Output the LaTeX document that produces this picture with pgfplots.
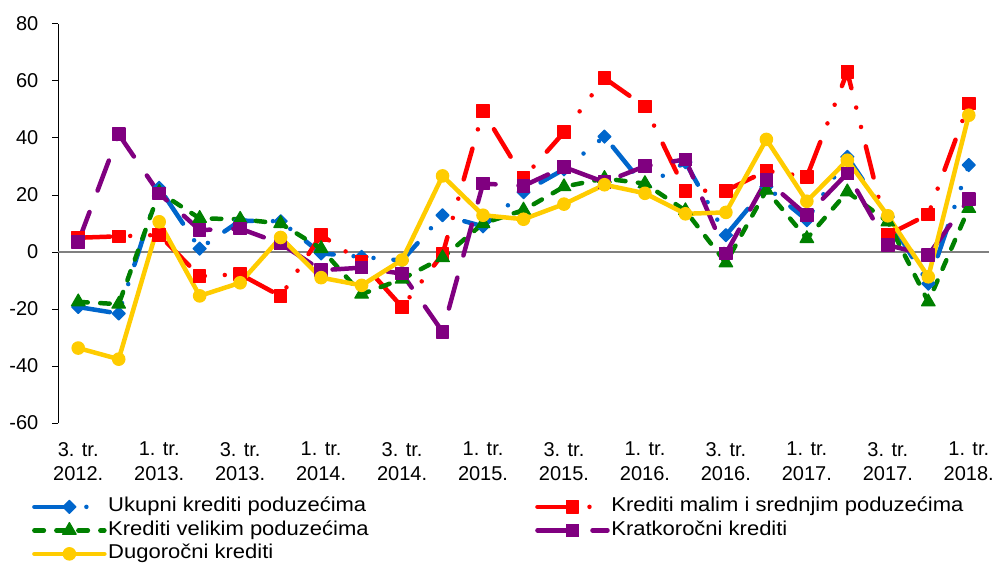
\documentclass[border=0pt]{standalone}
\usepackage{fontspec}
\setmainfont{Liberation Sans}
\newfontfamily\legendfont[FakeStretch=1.1]{Liberation Sans}
\usepackage{pgfplots}
\usepackage{pgfplotstable}
\pgfplotsset{compat=1.18}
\definecolor{cblue}{RGB}{0,102,204}
\definecolor{cred}{RGB}{255,0,0}
\definecolor{cgreen}{RGB}{0,128,0}
\definecolor{cpurple}{RGB}{128,0,128}
\definecolor{cyellow}{RGB}{255,204,0}
\definecolor{czero}{RGB}{128,128,128}

\pgfplotstableread{
x  blue   red    green  purple yellow
0  -19.3  5.0   -17.5   3.5   -33.7
1  -21.6  5.5   -18.3   41.3  -37.6
2   22.5  6.0    21.0   20.5   10.6
3   1.2  -8.5    11.8   7.7   -15.4
4   11.0 -7.8    11.5   8.2   -10.8
5   10.8 -15.5   10.0   3.0    5.1
6  -0.5   5.9    1.2   -6.4   -9.0
7  -1.7  -3.5   -14.8  -5.5   -11.7
8  -3.0  -19.3  -9.5   -7.6   -2.8
9   12.9 -0.8   -2.0   -28.0   26.7
10  9.0   49.4   10.0   24.0   12.9
11  21.0  26.0   14.7   23.2   11.5
12  29.0  42.0   22.9   29.8   16.8
13  40.5  61.0   25.8   24.5   23.6
14  23.0  51.0   24.0   30.1   20.6
15  31.5  21.5   14.5   32.5   13.4
16  5.9   21.5  -3.8   -0.5    13.9
17  22.9  28.5   21.7   25.2   39.5
18  11.2  26.4   4.7    12.9   17.8
19  33.4  63.2   21.1   27.6   32.2
20  12.3  6.0    10.6   2.4    12.7
21 -11.1  13.2  -17.5  -1.1   -8.7
22  30.5  52.1   15.3   18.5   48.0
}\data

\begin{document}
\begin{tikzpicture}
\begin{axis}[
  name=ax,
  scale only axis,
  width=465.5pt, height=199.5pt,
  xmin=-0.5, xmax=22.5, ymin=-60, ymax=80,
  axis y line*=left, axis x line*=bottom,
  x axis line style={draw=none},
  y axis line style={-, black, line width=0.5pt},
  ytick={-60,-40,-20,0,20,40,60,80},
  yticklabels={-60,-40,-20,0,20,40,60,80},
  xtick={0,2,4,6,8,10,12,14,16,18,20,22},
  xticklabels={{3. tr.\\2012.},{1. tr.\\2013.},{3. tr.\\2013.},{1. tr.\\2014.},{3. tr.\\2014.},{1. tr.\\2015.},{3. tr.\\2015.},{1. tr.\\2016.},{3. tr.\\2016.},{1. tr.\\2017.},{3. tr.\\2017.},{1. tr.\\2018.}},
  xticklabel style={align=center, font=\fontsize{10}{12.25}\selectfont, yshift=-3pt},
  xtick style={draw=none},
  tick align=outside,
  major tick length=3pt,
  ytick style={black, line width=0.5pt},
  yticklabel style={font=\fontsize{10}{12}\selectfont, xshift=-3.3pt},
  legend columns=2,
  legend cell align=left,
  legend style={draw=none, fill=none, inner sep=0pt, anchor=north west,
    at={(-0.0282,-0.1797)},
    font=\legendfont\fontsize{10}{12}\selectfont,
    nodes={inner sep=0pt, text height=8.25pt, text depth=3.5pt},
    /tikz/every odd column/.style={column sep=0.8pt},
    /tikz/every even column/.style={column sep=0pt}},
  legend image code/.code={\draw[mark repeat=2, mark phase=2, #1] plot coordinates {(0pt,0pt) (17.5pt,0pt) (35pt,0pt)};},
]
\addplot [czero, line width=0.75pt, forget plot] coordinates {(-0.5,0) (22.5,0)};

\addplot [cblue, line width=2.25pt, line cap=round, line join=round,
  dash pattern=on 16pt off 10pt on 0pt off 10pt on 0pt off 10pt,
  mark=square*, mark size=2.3pt, mark options={solid, line width=0.6pt, rotate=45, fill=cblue}]
  table [x=x, y=blue] {\data};
\addlegendentry{\makebox[213.5pt][l]{Ukupni krediti poduzećima}}

\addplot [cred, line width=2.25pt, line cap=round, line join=round,
  dash pattern=on 16pt off 10pt on 0pt off 10pt on 0pt off 10pt,
  mark=square*, mark size=3.1pt, mark options={solid, line width=0.6pt, fill=cred}]
  table [x=x, y=red] {\data};
\addlegendentry{Krediti malim i srednjim poduzećima}

\addplot [cgreen, line width=2.25pt, line cap=round, line join=round,
  dash pattern=on 4.75pt off 6.25pt,
  mark=triangle*, mark size=3.9pt, mark options={solid, line width=0.6pt, fill=cgreen}]
  table [x=x, y=green] {\data};
\addlegendentry{\makebox[213.5pt][l]{Krediti velikim poduzećima}}

\addplot [cpurple, line width=2.25pt, line cap=round, line join=round,
  dash pattern=on 16pt off 11.5pt,
  mark=square*, mark size=3.1pt, mark options={solid, line width=0.6pt, fill=cpurple}]
  table [x=x, y=purple] {\data};
\addlegendentry{Kratkoročni krediti}

\addplot [cyellow, line width=2.25pt, line cap=round, line join=round,
  mark=*, mark size=3.1pt, mark options={solid, line width=0.6pt, fill=cyellow}]
  table [x=x, y=yellow] {\data};
\addlegendentry{\makebox[213.5pt][l]{Dugoročni krediti}}
\end{axis}
\pgfresetboundingbox
\path ([xshift=-29pt,yshift=-70pt]ax.south west) rectangle ([xshift=3.5pt,yshift=12pt]ax.north east);
\end{tikzpicture}
\end{document}
